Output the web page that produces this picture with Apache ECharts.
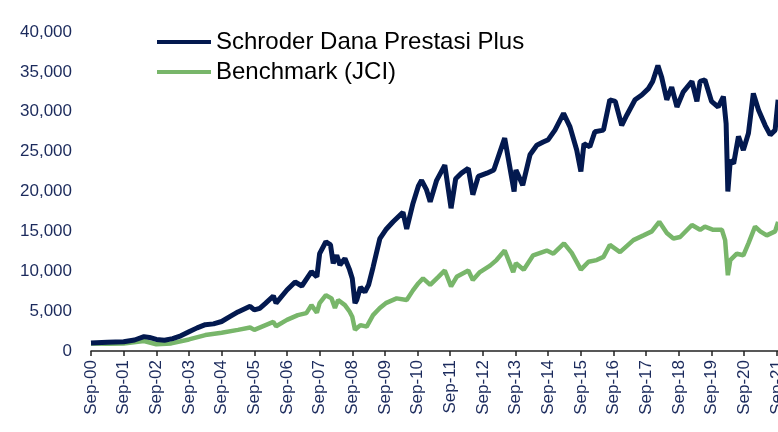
<!DOCTYPE html>
<html>
<head>
<meta charset="utf-8">
<script src="https://cdn.jsdelivr.net/npm/echarts@6/dist/echarts.min.js"></script>
<style>
  html, body { margin: 0; padding: 0; background: #fff; }
  #mainChart { width: 778px; height: 432px; }
</style>
</head>
<body>
<div id="mainChart"></div>
<script>
// Schroder Dana Prestasi Plus vs JCI, indexed to 1,000 at Sep-00
var fundDates = ['2000-09-01','2001-03-01','2001-09-01','2002-01-01','2002-04-15','2002-06-15','2002-09-01','2002-12-01',
  '2003-03-01','2003-06-01','2003-09-01','2003-12-01','2004-03-01','2004-06-01','2004-09-01','2004-12-01',
  '2005-03-01','2005-07-15','2005-09-01','2005-11-01','2006-01-01','2006-04-01','2006-05-01','2006-09-01',
  '2006-12-01','2007-02-15','2007-06-01','2007-08-01','2007-09-01','2007-11-10','2008-01-01','2008-02-01',
  '2008-03-10','2008-04-15','2008-06-10','2008-08-01','2008-09-01','2008-10-01','2008-10-20','2008-12-01',
  '2009-01-20','2009-03-01','2009-04-20','2009-07-05','2009-09-10','2009-12-01','2010-03-20','2010-05-01',
  '2010-07-10','2010-09-10','2010-10-15','2010-12-10','2011-01-20','2011-04-01','2011-07-01','2011-09-10',
  '2011-11-01','2012-01-05','2012-03-20','2012-05-10','2012-07-10','2012-10-15','2013-01-01','2013-03-10',
  '2013-05-01','2013-06-10','2013-08-15','2013-09-05','2013-11-20','2014-02-10','2014-04-25','2014-07-05',
  '2014-09-01','2014-11-15','2015-02-20','2015-05-01','2015-07-15','2015-09-01','2015-10-05','2015-12-10',
  '2016-02-05','2016-05-10','2016-07-20','2016-09-20','2016-12-01','2017-01-28','2017-04-28','2017-07-12',
  '2017-09-25','2017-11-12','2018-01-10','2018-02-20','2018-04-18','2018-06-12','2018-08-10','2018-10-20',
  '2019-01-25','2019-03-20','2019-04-25','2019-06-18','2019-09-01','2019-11-15','2020-01-12','2020-02-12',
  '2020-03-01','2020-03-28','2020-05-05','2020-06-28','2020-08-22','2020-10-18','2020-12-12','2021-02-10',
  '2021-04-22','2021-06-18','2021-08-12','2021-09-15'];
var fundValues = [1000,1100,1150,1380,1800,1700,1450,1350,
  1550,1900,2400,2900,3300,3400,3700,4300,
  4900,5600,5150,5350,5950,6900,6000,7650,
  8650,8150,9950,9300,12200,13700,13300,11000,
  12000,10800,11600,10200,9100,6000,6400,8000,
  7400,8300,10500,14100,15200,16200,17400,15300,
  18500,20700,21400,20200,18700,21400,23300,17900,
  21600,22300,22900,19600,21900,22300,22700,25000,
  26700,24200,20000,22700,20800,24600,25800,26200,
  26500,27700,29800,28100,25200,22500,26000,25600,
  27500,27700,31500,31300,28300,29600,31500,32100,
  32900,33800,35800,34400,31500,33100,30600,32500,
  33800,31300,33800,34000,31300,30600,31900,28500,
  20000,23900,23500,26900,25200,27300,32300,30200,
  28300,27100,27700,31500];

var jciDates = ['2000-09-01','2001-03-01','2001-09-01','2002-04-15','2002-09-01','2003-02-15','2003-09-01','2004-03-01',
  '2004-09-01','2005-03-01','2005-07-15','2005-09-01','2006-04-01','2006-05-01','2006-09-01','2007-01-01',
  '2007-04-05','2007-06-01','2007-08-01','2007-09-01','2007-11-10','2008-01-12','2008-02-20','2008-03-25',
  '2008-06-10','2008-08-01','2008-09-01','2008-10-01','2008-12-01','2009-02-10','2009-04-20','2009-07-05',
  '2009-09-10','2010-01-10','2010-05-01','2010-07-10','2010-09-10','2010-11-01','2011-01-20','2011-04-20',
  '2011-07-01','2011-09-10','2011-11-12','2012-03-20','2012-05-10','2012-07-28','2012-11-20','2013-02-01',
  '2013-05-01','2013-08-05','2013-09-05','2013-12-01','2014-03-15','2014-08-15','2014-10-28','2015-02-25',
  '2015-05-20','2015-09-01','2015-11-25','2016-02-25','2016-05-10','2016-07-20','2016-11-12','2017-04-10',
  '2017-08-01','2017-11-03','2018-01-25','2018-04-18','2018-07-01','2018-09-15','2019-01-25','2019-04-25',
  '2019-06-18','2019-09-20','2019-12-25','2020-02-01','2020-03-01','2020-03-28','2020-06-10','2020-08-22',
  '2020-10-18','2021-01-01','2021-02-28','2021-05-10','2021-08-12','2021-09-15'];
var jciValues = [950,900,950,1250,850,950,1450,2000,
  2300,2650,2950,2650,3650,3100,3900,4500,
  4750,5750,4800,6000,7000,6600,5400,6400,
  5750,4950,4300,2650,3250,3050,4500,5400,
  6000,6600,6400,7600,8500,9100,8300,9300,
  10100,8100,9300,10100,8900,9900,10700,11400,
  12600,9900,11000,10200,12000,12600,12200,13500,
  12300,10200,11200,11400,11800,13300,12400,13900,
  14500,15000,16200,14800,14100,14300,15800,15200,
  15600,15200,15200,13900,9500,11400,12200,12000,
  13500,15600,15000,14500,15000,16200];

var seriesNames = ['Schroder Dana Prestasi Plus', 'Benchmark (JCI)'];

// months since Sep-00
function monthPos(d) {
  var p = d.split('-');
  return (p[0] - 2000) * 12 + (p[1] - 9) + (p[2] - 1) / 30;
}
function pairs(dates, values) {
  return dates.map(function (d, i) { return [monthPos(d), values[i]]; });
}

var font = 'Liberation Sans, Arial, sans-serif';
var navy = '#03194f';
var green = '#78b66a';

var myChart = echarts.init(document.getElementById('mainChart'));
myChart.setOption({
  animation: false,
  grid: { left: 91, right: -7, top: 32, bottom: 81, outerBoundsMode: 'none' },
  legend: {
    orient: 'vertical',
    left: 152,
    top: 25,
    itemGap: 6,
    itemWidth: 54,
    itemHeight: 4,
    icon: 'rect',
    textStyle: { fontFamily: font, fontSize: 24, color: '#000' },
    data: seriesNames
  },
  xAxis: {
    type: 'value',
    min: 0,
    max: 255,
    interval: 12,
    axisLine: { lineStyle: { color: '#222', width: 1.5 } },
    axisTick: { length: 5, lineStyle: { color: '#222', width: 1.5 } },
    splitLine: { show: false },
    axisLabel: {
      rotate: 90,
      margin: 9,
      fontFamily: font,
      fontSize: 17,
      color: '#1b2a5c',
      formatter: function (v) {
        if (v % 12 !== 0) return '';
        var y = Math.round(v / 12);
        return 'Sep-' + (y < 10 ? '0' + y : '' + y);
      }
    }
  },
  yAxis: {
    type: 'value',
    min: 0,
    max: 40000,
    interval: 5000,
    axisLine: { show: false },
    axisTick: { show: false },
    splitLine: { show: false },
    axisLabel: {
      margin: 19,
      fontFamily: font,
      fontSize: 17,
      color: '#1b2a5c',
      formatter: function (v) { return v.toLocaleString('en-US'); }
    }
  },
  series: [
    {
      name: seriesNames[0],
      type: 'line',
      showSymbol: false,
      z: 3,
      itemStyle: { color: navy },
      lineStyle: { color: navy, width: 5 },
      data: pairs(fundDates, fundValues)
    },
    {
      name: seriesNames[1],
      type: 'line',
      showSymbol: false,
      z: 2,
      itemStyle: { color: green },
      lineStyle: { color: green, width: 4.5 },
      data: pairs(jciDates, jciValues)
    }
  ]
});
</script>
</body>
</html>
